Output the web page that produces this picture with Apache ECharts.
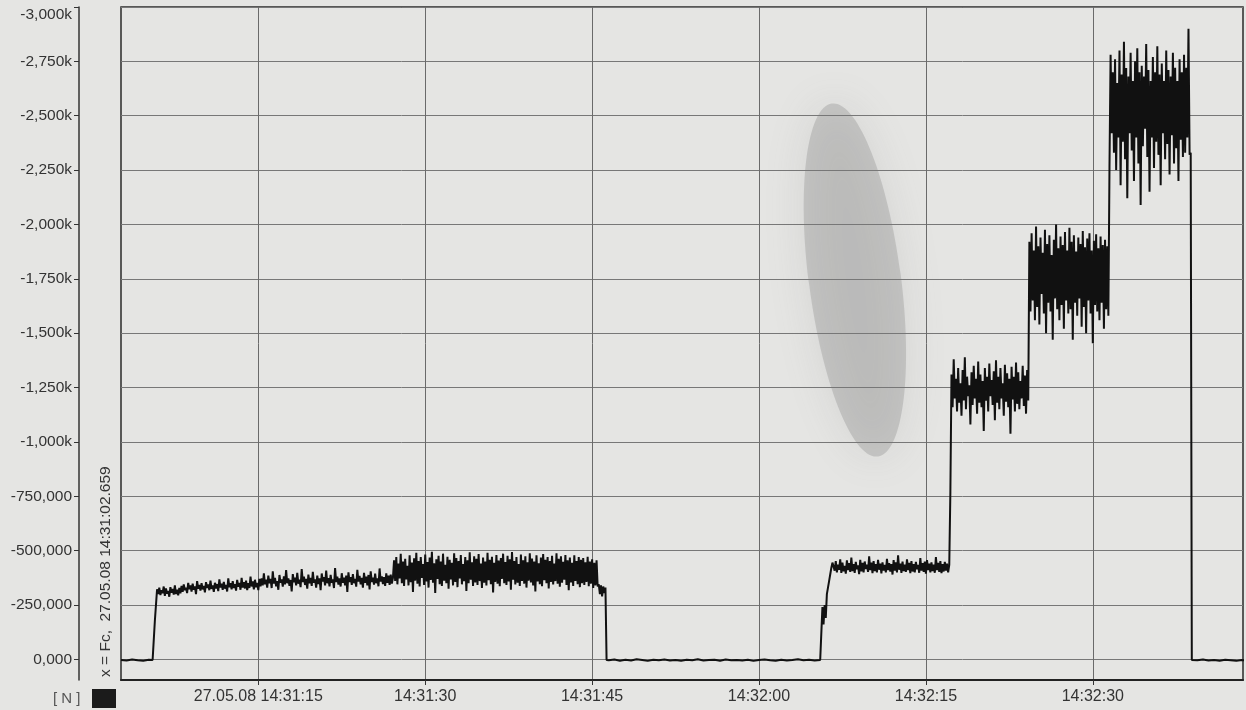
<!DOCTYPE html>
<html><head><meta charset="utf-8">
<script src="https://cdn.jsdelivr.net/npm/echarts@6/dist/echarts.min.js"></script>
<style>html,body{margin:0;padding:0;background:#e5e5e3;} #chart{width:1246px;height:710px;}</style>
</head><body><div id="chart"></div>
<script>
// time axis: seconds after 14:31:00 on 27.05.08 ; record starts at 14:31:02.659
const X_MIN = 2.659;
const X_MAX = 103.5;
const xTickValues = [15, 30, 45, 60, 75, 90];
const xTickLabels = ['27.05.08 14:31:15', '14:31:30', '14:31:45', '14:32:00', '14:32:15', '14:32:30'];

// force axis (N), drawn inverted: 0 at bottom, -3,000k at top
const Y_MIN = -3000000;
const Y_MAX = 95000;
const yTickValues = [-3000000, -2750000, -2500000, -2250000, -2000000, -1750000, -1500000, -1250000, -1000000, -750000, -500000, -250000, 0];
const yTickLabels = ['-3,000k', '-2,750k', '-2,500k', '-2,250k', '-2,000k', '-1,750k', '-1,500k', '-1,250k', '-1,000k', '-750,000', '-500,000', '-250,000', '0,000'];

const rest1Start = 2.659, rest1Step = 0.5;
const rest1 = [3, 5, 1, 4, 6, 2];

const run1Start = 5.5, run1Step = 0.1;
const run1 = [
  3, 3, -175, -180,
  // first plateau
  -322,-300,-330,-296,-318,-305,-335,-292,-326,-302,
  -315,-288,-332,-306,-324,-298,-340,-300,-320,-294,
  -328,-304,
  -338,-310,-345,-318,-330,-305,-352,-322,-340,-312,
  -348,-320,-335,-300,-360,-325,-342,-316,-350,-322,
  -338,-308,-355,-328,-345,-318,-362,-324,-340,-310,
  -352,-326,-346,-314,-368,-330,-348,-320,-356,-325,
  -342,-312,-372,-332,-350,-322,-360,-328,-346,-316,
  -365,-334,-352,-320,-375,-330,-355,-326,-362,-318,
  -350,-328,-380,-335,-358,-322,-366,-332,-352,-318,
  -370,-336,
  -372,-340,-395,-345,-366,-330,-385,-350,-370,-328,
  -405,-348,-375,-336,-360,-320,-388,-352,-368,-334,
  -382,-345,-410,-350,-372,-338,-365,-312,-392,-355,
  -376,-340,-398,-348,-366,-332,-415,-356,-380,-342,
  -370,-325,-390,-350,-375,-338,-402,-352,-368,-330,
  -385,-346,-372,-318,-395,-358,-378,-340,-408,-350,
  -374,-336,-388,-352,-368,-328,-420,-355,-380,-344,
  -372,-335,-396,-352,-376,-340,-385,-310,-400,-356,
  -378,-342,-392,-350,-370,-334,-412,-358,-384,-345,
  -375,-330,-398,-352,-380,-340,-388,-322,-405,-356,
  -376,-344,-394,-350,-372,-336,-418,-358,-382,-346,
  -378,-338,-395,-352,-385,-342,-390,-348,-375,
  // second plateau
  -455,-360,-470,-345,-440,-372,-485,-350,-450,-338,
  -462,-368,-430,-340,-478,-355,-445,-310,-465,-362,
  -490,-348,-452,-335,-470,-375,-438,-342,-482,-358,
  -448,-330,-468,-365,-495,-352,-442,-305,-460,-370,
  -476,-346,-450,-338,-486,-362,-435,-350,-472,-325,
  -458,-368,-444,-340,-488,-356,-466,-332,-452,-372,
  -480,-345,-438,-360,-470,-315,-456,-350,-492,-366,
  -446,-338,-474,-354,-462,-342,-484,-360,-440,-328,
  -468,-352,-450,-340,-490,-364,-458,-346,-472,-308,
  -444,-356,-480,-348,-454,-336,-466,-370,-486,-350,
  -448,-342,-476,-358,-460,-320,-494,-366,-452,-344,
  -470,-352,-438,-338,-482,-360,-456,-348,-474,-330,
  -446,-362,-488,-354,-464,-340,-450,-312,-478,-358,
  -442,-346,-468,-336,-484,-364,-458,-350,-470,-326,
  -452,-356,-476,-344,-440,-360,-488,-348,-462,-334,
  -474,-352,-448,-366,-480,-342,-456,-318,-468,-354,
  -444,-338,-478,-360,-452,-346,-470,-332,-458,-350,
  -466,-342,-446,-356,-472,-336,-450,-348,-460,-328,
  -444,-340,-455,-335,
  // short step before release
  -345,-300,-340,-290,-335,-305,-330,
  3
];

const rest2Start = 46.5, rest2Step = 0.5;
const rest2 = [
  4, 1, 6, 2, 5, 0, 3, 7, 2, 4,
  1, 5, 3, 6, 2, 4, 0, 5, 3, 2,
  6, 1, 4, 3, 5, 2, 7, 3, 1, 4,
  6, 2, 5, 3, 0, 4, 2, 5
];

const run2Start = 65.5, run2Step = 0.1;
const run2 = [
  3, 2, -240, -160, -250, -190, -300, -330, -360, -390, -420, -445,
  // plateau about -430k
  -440,-408,-452,-400,-436,-412,-460,-398,-445,-405,
  -430,-394,-455,-410,-442,-402,-468,-406,-438,-398,
  -448,-414,-432,-392,-458,-404,-444,-400,-450,-416,
  -436,-402,-474,-410,-445,-396,-452,-406,-438,-400,
  -458,-412,-440,-395,-446,-408,-434,-400,-462,-410,
  -442,-404,-438,-390,-456,-408,-446,-400,-478,-412,
  -440,-398,-450,-406,-436,-402,-460,-410,-444,-396,
  -452,-404,-438,-400,-448,-414,-434,-398,-466,-408,
  -442,-402,-450,-394,-456,-410,-440,-400,-446,-406,
  -436,-398,-470,-410,-444,-402,-452,-396,-438,-404,
  -448,-408,-440,-400,-435,
  -770,
  // plateau about -1,250k
  -1310,-1160,-1380,-1200,-1290,-1140,-1340,-1180,-1270,-1120,
  -1330,-1190,-1389,-1150,-1300,-1210,-1260,-1080,-1320,-1170,
  -1350,-1200,-1290,-1130,-1370,-1180,-1310,-1160,-1280,-1050,
  -1340,-1190,-1300,-1140,-1360,-1210,-1285,-1170,-1325,-1100,
  -1375,-1180,-1300,-1150,-1340,-1200,-1270,-1120,-1355,-1185,
  -1315,-1160,-1290,-1037,-1345,-1195,-1300,-1140,-1365,-1175,
  -1320,-1150,-1280,-1200,-1350,-1165,-1305,-1130,-1330,-1190,
  // plateau about -1,750k
  -1920,-1600,-1960,-1650,-1880,-1560,-1990,-1620,-1900,-1540,
  -1940,-1680,-1870,-1590,-1975,-1500,-1910,-1640,-1950,-1600,
  -1860,-1470,-1930,-1660,-2000,-1610,-1890,-1560,-1945,-1630,
  -1905,-1520,-1965,-1650,-1880,-1590,-1985,-1610,-1920,-1470,
  -1950,-1640,-1875,-1580,-1940,-1660,-1910,-1530,-1970,-1620,
  -1895,-1500,-1935,-1650,-1960,-1590,-1880,-1454,-1925,-1630,
  -1955,-1600,-1890,-1560,-1945,-1640,-1905,-1520,-1930,-1610,
  -1900,-1580,
  -2262,
  // plateau about -2,500k
  -2780,-2420,-2700,-2330,-2760,-2250,-2650,-2400,-2800,-2180,
  -2690,-2380,-2840,-2300,-2720,-2120,-2680,-2420,-2790,-2340,
  -2660,-2200,-2750,-2400,-2810,-2280,-2700,-2090,-2730,-2360,
  -2680,-2440,-2830,-2310,-2710,-2150,-2660,-2400,-2770,-2260,
  -2700,-2380,-2820,-2320,-2690,-2180,-2740,-2420,-2660,-2300,
  -2800,-2370,-2710,-2230,-2680,-2410,-2790,-2280,-2720,-2350,
  -2660,-2200,-2760,-2390,-2700,-2310,-2780,-2330,-2720,-2400,
  -2900,-2320,-2330,
  3
];

const rest3Start = 99.4, rest3Step = 0.5;
const rest3 = [4, 1, 5, 3, 6, 2, 4, 7, 3, 5];

const runs = [
  [rest1Start, rest1Step, rest1],
  [run1Start, run1Step, run1],
  [rest2Start, rest2Step, rest2],
  [run2Start, run2Step, run2],
  [rest3Start, rest3Step, rest3]
];
const seriesData = [];
runs.forEach(([start, step, vals]) => {
  vals.forEach((v, i) => seriesData.push([start + i * step, v * 1000]));
});

function lookup(values, labels, v) {
  for (let i = 0; i < values.length; i++) if (Math.abs(values[i] - v) < 1e-6 * Math.max(1, Math.abs(v))) return labels[i];
  return '';
}

const FONT = '"Liberation Sans", Arial, sans-serif';
const chart = echarts.init(document.getElementById('chart'), null, { renderer: 'canvas' });
chart.setOption({
  animation: false,
  backgroundColor: '#e5e5e3',
  grid: { left: 121, right: 3, top: 7, bottom: 30, show: true, borderColor: '#2a2a2a', borderWidth: 1.5 },
  xAxis: {
    type: 'value', min: X_MIN, max: X_MAX,
    axisLine: { show: true, onZero: false, lineStyle: { color: '#222', width: 2 } },
    axisTick: { show: true, customValues: xTickValues, length: 5, lineStyle: { color: '#333', width: 1 } },
    axisLabel: { customValues: xTickValues, formatter: v => lookup(xTickValues, xTickLabels, v), fontSize: 16, color: '#333', margin: 9, fontFamily: FONT },
    splitLine: { show: true, lineStyle: { color: '#6a6a6a', width: 1 } }
  },
  yAxis: {
    type: 'value', inverse: true, min: Y_MIN, max: Y_MAX, offset: 42,
    axisLine: { show: true, onZero: false, lineStyle: { color: '#333', width: 1.5 } },
    axisTick: { show: true, customValues: yTickValues, length: 5, lineStyle: { color: '#333', width: 1 } },
    axisLabel: { customValues: yTickValues, formatter: v => lookup(yTickValues, yTickLabels, v), fontSize: 15.5, color: '#333', margin: 7, fontFamily: FONT, verticalAlignMinLabel: 'top' },
    splitLine: { show: true, lineStyle: { color: '#777', width: 1 } }
  },
  graphic: [
    { type: 'ellipse', z: -10, x: 855, y: 280, rotation: 0.13,
      shape: { cx: 0, cy: 0, rx: 46, ry: 178 },
      style: { fill: 'rgba(120,120,120,0.27)', shadowBlur: 40, shadowColor: 'rgba(120,120,120,0.55)' } },
    { type: 'text', x: 106, y: 677, rotation: Math.PI / 2,
      style: { text: 'x = Fc,  27.05.08 14:31:02.659', fill: '#333', font: '15.5px ' + FONT, align: 'left', verticalAlign: 'middle' } },
    { type: 'text', x: 53, y: 699,
      style: { text: '[ N ]', fill: '#555', font: '15px ' + FONT, align: 'left', verticalAlign: 'middle' } },
    { type: 'rect', x: 92, y: 689, shape: { width: 24, height: 19 }, style: { fill: '#1b1b1b' } }
  ],
  series: [{
    type: 'line', data: seriesData, showSymbol: false, symbol: 'none', sampling: null,
    lineStyle: { color: '#111', width: 2 }, clip: true, z: 5
  }]
});
</script></body></html>
